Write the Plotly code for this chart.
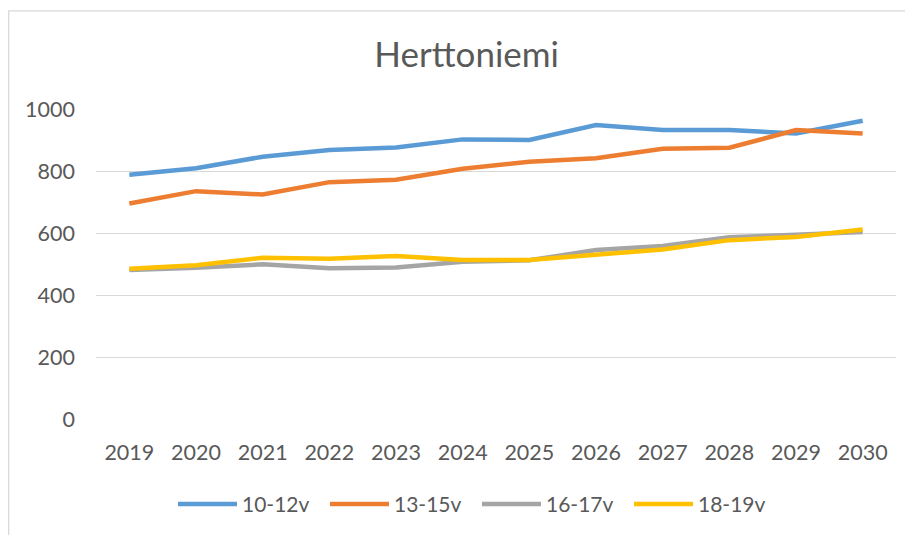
import plotly.graph_objects as go

years = ["2019", "2020", "2021", "2022", "2023", "2024", "2025", "2026", "2027", "2028", "2029", "2030"]
v10_12 = [788, 809, 846, 868, 876, 902, 900, 948, 932, 932, 921, 962]
v13_15 = [695, 735, 724, 764, 772, 807, 830, 841, 872, 875, 932, 921]
v16_17 = [481, 488, 499, 486, 489, 507, 512, 545, 558, 586, 594, 603]
v18_19 = [485, 496, 520, 517, 526, 513, 513, 529, 547, 577, 587, 611]
series_names = ["10-12v", "13-15v", "16-17v", "18-19v"]
series_values = [v10_12, v13_15, v16_17, v18_19]
colors = ["#5B9BD5", "#ED7D31", "#A5A5A5", "#FFC000"]
y_ticks = [0, 200, 400, 600, 800, 1000]

FONT = "Lato"
TXT = "#595959"
OFF = 8  # page body margin

fig = go.Figure()
for name, vals, col in zip(series_names, series_values, colors):
    fig.add_trace(go.Scatter(
        x=years, y=vals, name=name, mode="lines",
        line=dict(color=col, width=4.5, shape="linear"),
    ))

W, H = 913 - OFF, 535 - OFF
L, R, T = 96 - OFF, 17, 109 - OFF
ph = 311.5
B = H - T - ph
pw = W - L - R

fig.update_layout(
    width=W, height=H,
    margin=dict(l=L, r=R, t=T, b=B, pad=0),
    paper_bgcolor="white", plot_bgcolor="white",
    font=dict(family=FONT, color=TXT, size=21),
    title=dict(text="Herttoniemi", font=dict(family=FONT, size=35, color=TXT),
               xref="container", yref="container",
               x=(466.7 - OFF) / W, y=1 - (55 - OFF) / H, xanchor="center", yanchor="middle"),
    xaxis=dict(type="category", range=[-0.5, 11.5], showgrid=False, zeroline=False,
               showline=False, ticks="", tickfont=dict(size=21.5, color=TXT),
               ticklabelstandoff=18),
    yaxis=dict(range=[0, 1000], tickvals=y_ticks, showgrid=True, gridcolor="#D9D9D9",
               gridwidth=1.3, zeroline=False, showline=False, ticks="",
               tickfont=dict(size=21.5, color=TXT), ticklabelstandoff=20),
    showlegend=True,
    legend=dict(orientation="h", x=(173 - OFF - L) / pw, xanchor="left",
                y=-(505 - OFF - (T + ph)) / ph, yanchor="middle",
                font=dict(size=21, color=TXT), itemwidth=59,
                entrywidth=78, entrywidthmode="pixels",
                bgcolor="rgba(0,0,0,0)"),
    shapes=[dict(type="rect", xref="paper", yref="paper",
                 x0=(0.7 - L) / pw, x1=1.2, y0=-0.6, y1=(T + ph - (10.5 - OFF)) / ph,
                 line=dict(color="#D9D9D9", width=1.3), fillcolor="rgba(0,0,0,0)",
                 layer="below")],
)

fig.write_html("out.html")
